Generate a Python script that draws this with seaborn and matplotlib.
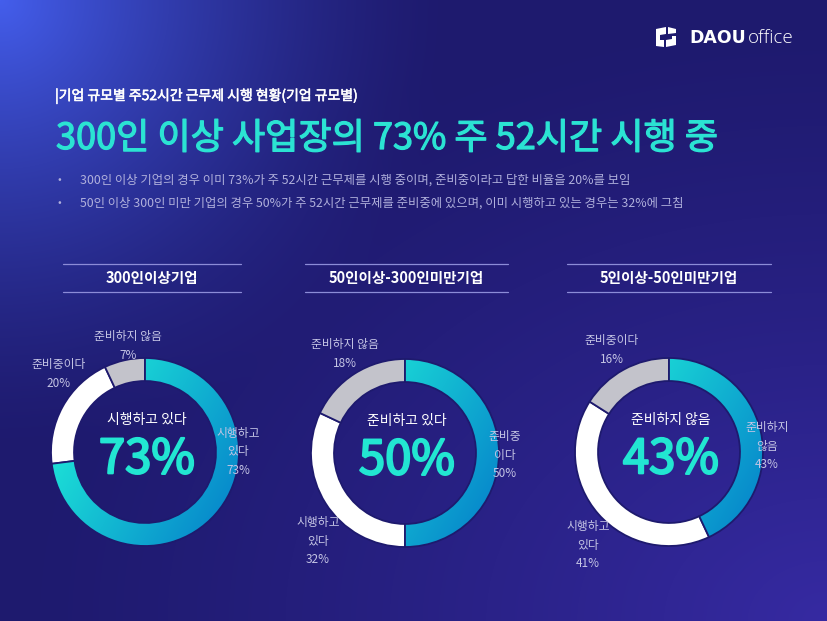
import numpy as np
import matplotlib
matplotlib.use("Agg")
import matplotlib.pyplot as plt
import matplotlib.patches as mpatches
import matplotlib.patheffects as pe
import seaborn as sns

# ---------------- data ----------------
subtitle = "|기업 규모별 주52시간 근무제 시행 현황(기업 규모별)"
headline = "300인 이상 사업장의 73% 주 52시간 시행 중"
bullets = [
    "300인 이상 기업의 경우 이미 73%가 주 52시간 근무제를 시행 중이며, 준비중이라고 답한 비율을 20%를 보임",
    "50인 이상 300인 미만 기업의 경우 50%가 주 52시간 근무제를 준비중에 있으며, 이미 시행하고 있는 경우는 32%에 그침",
]
groups = ["300인이상기업", "50인이상-300인미만기업", "5인이상-50인미만기업"]
center_captions = ["시행하고 있다", "준비하고 있다", "준비하지 않음"]

# segments clockwise from 12 o'clock
seg_names_300 = ["시행하고\n있다", "준비중이다", "준비하지 않음"]
seg_values_300 = [73, 20, 7]
seg_names_50 = ["준비중\n이다", "시행하고\n있다", "준비하지 않음"]
seg_values_50 = [50, 32, 18]
seg_names_5 = ["준비하지\n않음", "시행하고\n있다", "준비중이다"]
seg_values_5 = [43, 41, 16]

seg_names = [seg_names_300, seg_names_50, seg_names_5]
seg_values = [seg_values_300, seg_values_50, seg_values_5]

# ---------------- style ----------------
sns.set_theme(style="white")
plt.rcParams["font.family"] = ["Noto Sans CJK KR", "DejaVu Sans"]

W, H = 828, 621
fig = plt.figure(figsize=(W / 100, H / 100), dpi=100)


def fx(x):
    return x / W


def fy(y):
    return 1 - y / H


# background gradient
bg_ax = fig.add_axes([0, 0, 1, 1], zorder=0)
yy, xx = np.mgrid[0:H, 0:W].astype(float)
navy = np.array([0x1E, 0x1A, 0x6E]) / 255
blue = np.array([0x44, 0x5E, 0xEC]) / 255
purple = np.array([0x36, 0x2A, 0xA2]) / 255
d_tl = np.sqrt((xx / W) ** 2 + (yy / H * 0.75) ** 2)
w_tl = np.clip(1 - d_tl / 0.55, 0, 1) ** 1.5
d_br = np.sqrt(((W - xx) / W) ** 2 + ((H - yy) / H) ** 2)
w_br = np.clip(1 - d_br / 1.0, 0, 1) ** 1.3
img = navy[None, None, :] + (blue - navy)[None, None, :] * w_tl[..., None] \
    + (purple - navy)[None, None, :] * w_br[..., None]
bg_ax.imshow(np.clip(img, 0, 1), extent=[0, W, H, 0], aspect="auto")
bg_ax.set_xlim(0, W)
bg_ax.set_ylim(H, 0)
bg_ax.axis("off")

# overlay axes in pixel coordinates
logo_ax = fig.add_axes([0, 0, 1, 1], zorder=1)
logo_ax.set_xlim(0, W)
logo_ax.set_ylim(H, 0)
logo_ax.axis("off")
icon = [
    [(656, 29), (666, 27), (666, 34), (660, 35), (660, 44), (656, 45)],
    [(668, 27), (676, 29), (676, 33), (668, 34)],
    [(676, 36), (676, 45), (666, 47), (666, 40), (672, 39), (672, 36)],
    [(656, 40), (664, 40), (664, 47), (656, 46)],
]
for poly in icon:
    logo_ax.add_patch(mpatches.Polygon(poly, closed=True, fc="white", ec="none"))
fig.text(fx(689), fy(38), "DAOU", color="white", fontsize=12.5, fontweight="bold",
         family=["DejaVu Sans"], va="center", ha="left")
fig.text(fx(748), fy(38), "office", color="white", fontsize=13.5, fontweight="light",
         family=["Open Sans", "DejaVu Sans"], va="center", ha="left")

# headings
fig.text(fx(55), fy(96), subtitle, color="white", fontsize=10,
         va="center", ha="left",
         path_effects=[pe.withStroke(linewidth=0.4, foreground="white")])
fig.text(fx(56), fy(139), headline, color="#2BE3D3", fontsize=26, va="center", ha="left",
         path_effects=[pe.withStroke(linewidth=0.9, foreground="#2BE3D3")])
for i, b in enumerate(bullets):
    yb = 180 + i * 23
    fig.text(fx(58), fy(yb), "•", color="#B0B0DC", fontsize=8, va="center", ha="left")
    fig.text(fx(80), fy(yb), b, color="#B0B0DC", fontsize=8.9, va="center", ha="left")

# donuts
centers = [(145, 452), (405, 453), (669, 452)]
header_spans = [(63, 241), (305, 508), (567, 771)]
label_pos = [
    [(238, 452), (59, 374), (128, 346)],
    [(505, 455), (318, 541), (345, 354)],
    [(767, 446), (588, 545), (612, 350)],
]
R = 94
pad = 1.3
cyan = np.array([0x1E, 0xE8, 0xD8]) / 255
deep = np.array([0x08, 0x8C, 0xCC]) / 255
ring_colors = ["#18D8D8", "white", "#C3C3CB"]

g = np.linspace(-1, 1, 300)
gx, gy = np.meshgrid(g, g)
ang = np.deg2rad(-30)
t = np.clip((gx * np.cos(ang) + gy * np.sin(ang) + 1) / 2, 0, 1)
grad = cyan[None, None, :] * (1 - t[..., None]) + deep[None, None, :] * t[..., None]

for k in range(3):
    cx, cy = centers[k]
    box = 2 * R * pad
    ax = fig.add_axes([fx(cx - box / 2), fy(cy + box / 2), box / W, box / H], zorder=2)
    ax.patch.set_alpha(0)
    wedges, _ = ax.pie(seg_values[k], startangle=90, counterclock=False,
                       colors=ring_colors, radius=1.0,
                       wedgeprops=dict(width=0.245, edgecolor="#1E1A6E", linewidth=1.3))
    w0 = wedges[0]
    w0.set_facecolor("none")
    w0.set_zorder(3)
    im = ax.imshow(grad, extent=[-1, 1, -1, 1], origin="lower", zorder=2,
                   interpolation="bilinear")
    im.set_clip_path(w0)
    ax.set_xlim(-pad, pad)
    ax.set_ylim(-pad, pad)
    ax.set_aspect("equal")
    ax.axis("off")

    # center texts
    fig.text(fx(cx + 2), fy(cy - 32), center_captions[k], color="white", fontsize=10,
             ha="center", va="center", zorder=5)
    fig.text(fx(cx + 2), fy(cy + 8), f"{seg_values[k][0]}%", color="#22E6D2",
             fontsize=34, ha="center", va="center", zorder=5,
             path_effects=[pe.withStroke(linewidth=1.6, foreground="#22E6D2")])

    # outside labels
    for j, (nm, v) in enumerate(zip(seg_names[k], seg_values[k])):
        lx, ly = label_pos[k][j]
        fig.text(fx(lx), fy(ly), f"{nm}\n{v}%", color="#C4C4E4", fontsize=8.5,
                 ha="center", va="center", linespacing=1.55, zorder=5)

    # header
    x0, x1 = header_spans[k]
    logo_ax.plot([x0, x1], [264, 264], color="#8C8CD8", lw=0.9)
    logo_ax.plot([x0, x1], [292, 292], color="#8C8CD8", lw=0.9)
    fig.text(fx((x0 + x1) / 2), fy(278), groups[k], color="white", fontsize=10.5,
             fontweight="bold", ha="center", va="center")

fig.savefig("out.png", dpi=100)
